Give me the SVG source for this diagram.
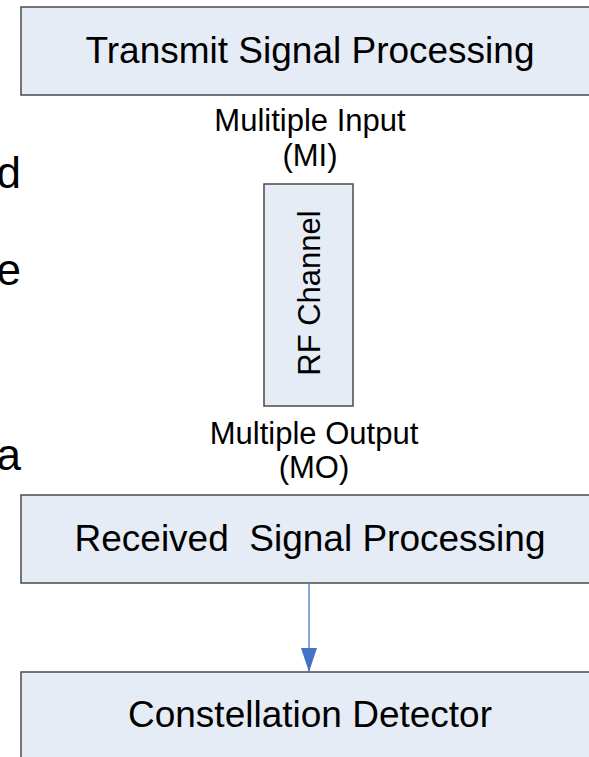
<svg xmlns="http://www.w3.org/2000/svg" width="589" height="757" viewBox="0 0 589 757">
<style>
.box{fill:#E6ECF6;stroke:#4a4a4a;stroke-width:1.5}
.t{font-family:"Liberation Sans",Arial,sans-serif;fill:#000;text-anchor:middle}
.big{font-size:37px}
.sm{font-size:31px}
.lft{font-family:"Liberation Sans",Arial,sans-serif;font-size:44px;fill:#000;text-anchor:end}
</style>
<defs>
<marker id="ah" markerWidth="24" markerHeight="16" refX="23" refY="8" orient="auto" markerUnits="userSpaceOnUse" viewBox="0 0 24 16">
<path d="M0,0 L24,8 L0,16 Z" fill="#4472C4"/>
</marker>
</defs>
<rect width="589" height="757" fill="#fff"/>
<g id="left-text">
<text class="lft" x="21" y="188">d</text>
<text class="lft" x="21" y="285">e</text>
<text class="lft" x="21" y="470">a</text>
</g>
<g id="transmit">
<rect class="box" x="21" y="7" width="600" height="88"/>
<text class="t big" x="310" y="63">Transmit Signal Processing</text>
</g>
<g id="mi-label">
<text class="t sm" x="310" y="131">Mulitiple Input</text>
<text class="t sm" x="310" y="166">(MI)</text>
</g>
<g id="rf-channel">
<rect class="box" x="264" y="184" width="89" height="222"/>
<text class="t sm" transform="translate(320,293) rotate(-90)" x="0" y="0">RF Channel</text>
</g>
<g id="mo-label">
<text class="t sm" x="314" y="444">Multiple Output</text>
<text class="t sm" x="314" y="478">(MO)</text>
</g>
<g id="received">
<rect class="box" x="21" y="495" width="600" height="88"/>
<text class="t big" x="310" y="551" xml:space="preserve">Received  Signal Processing</text>
</g>
<g id="detector">
<rect class="box" x="21" y="672" width="600" height="100"/>
<text class="t big" x="310" y="727">Constellation Detector</text>
</g>
<g id="connectors">
<line x1="309" y1="583" x2="309" y2="671" stroke="#5B8BD0" stroke-width="1.5" marker-end="url(#ah)"/>
</g>
</svg>
